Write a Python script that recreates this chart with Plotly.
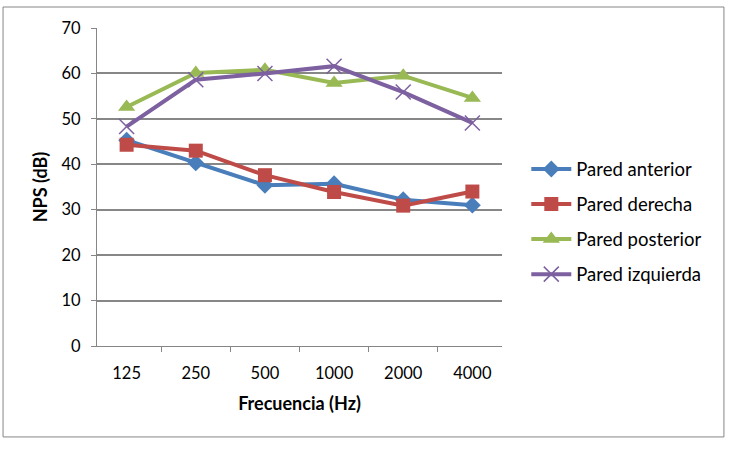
import plotly.graph_objects as go

frecuencias = ["125", "250", "500", "1000", "2000", "4000"]
pared_anterior = [45.3, 40.3, 35.4, 35.7, 32.2, 31.0]
pared_derecha = [44.3, 43.0, 37.6, 33.9, 30.9, 34.0]
pared_posterior = [52.6, 60.1, 60.8, 57.9, 59.5, 54.6]
pared_izquierda = [48.3, 58.6, 60.0, 61.6, 55.9, 49.1]
y_ticks = [0, 10, 20, 30, 40, 50, 60, 70]

FONT = "Lato, Open Sans, Liberation Sans, sans-serif"

series = [
    ("Pared anterior", pared_anterior, "#4A7EBB", dict(symbol="diamond", size=13)),
    ("Pared derecha", pared_derecha, "#BE4B48", dict(symbol="square", size=14)),
    ("Pared posterior", pared_posterior, "#98B954", dict(symbol="triangle-up", size=15)),
    ("Pared izquierda", pared_izquierda, "#7D60A0",
     dict(symbol="x-thin-open", size=15, line=dict(width=1.5, color="#7D60A0"))),
]

fig = go.Figure()
for i, (name, vals, color, mk) in enumerate(series):
    marker = dict(color=color, **mk)
    fig.add_trace(go.Scatter(
        x=frecuencias, y=vals, name=name, mode="lines+markers",
        line=dict(color=color, width=4), marker=marker, legendgroup=f"g{i}",
    ))

fig.update_layout(
    width=730, height=450,
    margin=dict(l=97, r=228, t=28, b=104),
    paper_bgcolor="white", plot_bgcolor="white",
    font=dict(family=FONT, size=16, color="#000000"),
    legend=dict(x=1.06, y=0.39, xanchor="left", yanchor="middle",
                font=dict(size=18.5), tracegroupgap=8, itemwidth=40),
    xaxis=dict(
        type="category", tickson="boundaries", ticks="outside", ticklen=5,
        tickcolor="#868686", showline=True, linecolor="#868686", linewidth=1,
        showgrid=False, tickfont=dict(size=16.5), ticklabelstandoff=12,
        title=dict(text="<b>Frecuencia (Hz)</b>", font=dict(size=18), standoff=15),
    ),
    yaxis=dict(
        range=[0, 70], tickvals=y_ticks, ticks="outside", ticklen=5,
        tickcolor="#868686", showline=True, linecolor="#868686", linewidth=1,
        showgrid=True, gridcolor="#878787", gridwidth=1.5, zeroline=False,
        tickfont=dict(size=16.5), ticklabelstandoff=7,
        title=dict(text="<b>NPS (dB)</b>", font=dict(size=18), standoff=9),
    ),
    shapes=[dict(type="rect", xref="paper", yref="paper",
                 x0=-0.232, x1=1.548, y0=-0.286, y1=1.066,
                 line=dict(color="#868686", width=1), layer="below")],
)

fig.write_html("out.html")
